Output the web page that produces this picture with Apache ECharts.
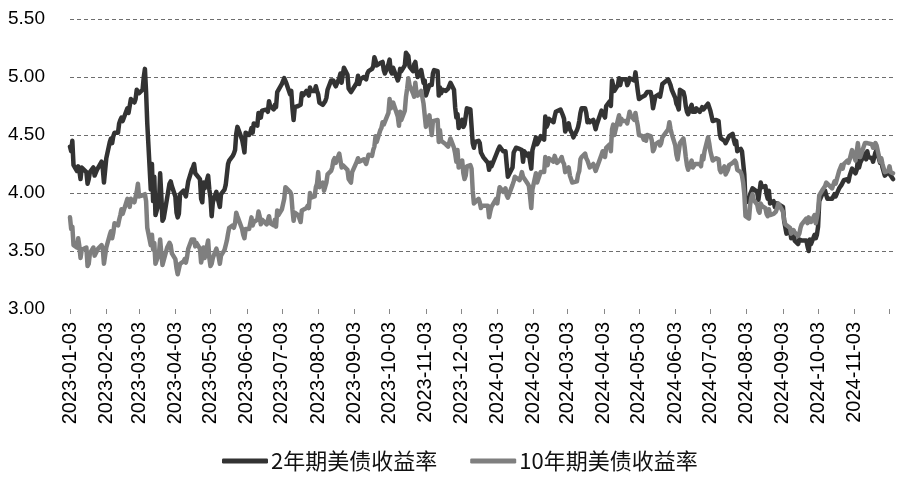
<!DOCTYPE html>
<html><head><meta charset="utf-8">
<script src="https://cdn.jsdelivr.net/npm/echarts@6/dist/echarts.min.js"></script>
<style>html,body{margin:0;padding:0;background:#fff}#c{width:900px;height:478px}</style>
</head><body><div id="c"></div>
<script>
const seriesNames = ['2年期美债收益率', '10年期美债收益率'];
const axisStart = '2023-01-03';
const axisEnd = '2024-12-06';
const xTickLabels = ['2023-01-03','2023-02-03','2023-03-03','2023-04-03','2023-05-03','2023-06-03','2023-07-03','2023-08-03','2023-09-03','2023-10-03','2023-11-03','2023-12-03','2024-01-03','2024-02-03','2024-03-03','2024-04-03','2024-05-03','2024-06-03','2024-07-03','2024-08-03','2024-09-03','2024-10-03','2024-11-03'];
const xTickMarks = xTickLabels.concat(['2024-12-03']);
const yMin = 3.0, yMax = 5.5, yStep = 0.5;

// ---- 2023 trading days (MM-DD) ----
const dates2023 = [
'01-03','01-04','01-05','01-06','01-09','01-10','01-11','01-12','01-13','01-17','01-18','01-19','01-20','01-23','01-24','01-25','01-26','01-27','01-30','01-31',
'02-01','02-02','02-03','02-06','02-07','02-08','02-09','02-10','02-13','02-14','02-15','02-16','02-17','02-21','02-22','02-23','02-24','02-27','02-28',
'03-01','03-02','03-03','03-06','03-07','03-08','03-09','03-10','03-13','03-14','03-15','03-16','03-17','03-20','03-21','03-22','03-23','03-24','03-27','03-28','03-29','03-30','03-31',
'04-03','04-04','04-05','04-06','04-07','04-10','04-11','04-12','04-13','04-14','04-17','04-18','04-19','04-20','04-21','04-24','04-25','04-26','04-27','04-28',
'05-01','05-02','05-03','05-04','05-05','05-08','05-09','05-10','05-11','05-12','05-15','05-16','05-17','05-18','05-19','05-22','05-23','05-24','05-25','05-26','05-30','05-31',
'06-01','06-02','06-05','06-06','06-07','06-08','06-09','06-12','06-13','06-14','06-15','06-16','06-20','06-21','06-22','06-23','06-26','06-27','06-28','06-29','06-30',
'07-03','07-05','07-06','07-07','07-10','07-11','07-12','07-13','07-14','07-17','07-18','07-19','07-20','07-21','07-24','07-25','07-26','07-27','07-28','07-31',
'08-01','08-02','08-03','08-04','08-07','08-08','08-09','08-10','08-11','08-14','08-15','08-16','08-17','08-18','08-21','08-22','08-23','08-24','08-25','08-28','08-29','08-30','08-31',
'09-01','09-05','09-06','09-07','09-08','09-11','09-12','09-13','09-14','09-15','09-18','09-19','09-20','09-21','09-22','09-25','09-26','09-27','09-28','09-29',
'10-02','10-03','10-04','10-05','10-06','10-10','10-11','10-12','10-13','10-16','10-17','10-18','10-19','10-20','10-23','10-24','10-25','10-26','10-27','10-30','10-31',
'11-01','11-02','11-03','11-06','11-07','11-08','11-09','11-10','11-13','11-14','11-15','11-16','11-17','11-20','11-21','11-22','11-24','11-27','11-28','11-29','11-30',
'12-01','12-04','12-05','12-06','12-07','12-08','12-11','12-12','12-13','12-14','12-15','12-18','12-19','12-20','12-21','12-22','12-26','12-27','12-28','12-29'
];
const yield2y2023 = [
4.40,4.36,4.45,4.24,4.19,4.23,4.19,4.12,4.22,4.18,4.08,4.12,4.18,4.22,4.15,4.14,4.20,4.21,4.27,4.21,
4.09,4.10,4.30,4.44,4.47,4.43,4.49,4.52,4.52,4.60,4.63,4.65,4.62,4.73,4.69,4.70,4.81,4.78,4.81,
4.89,4.89,4.86,4.89,5.00,5.07,4.87,4.60,4.03,4.25,3.93,4.14,3.81,3.92,4.17,3.98,3.76,3.78,3.96,4.02,4.08,4.10,4.06,
3.97,3.83,3.79,3.82,3.99,4.02,4.03,3.97,3.97,4.10,4.20,4.22,4.25,4.17,4.18,4.12,3.95,3.92,4.09,4.04,
4.15,4.03,3.96,3.80,3.92,4.01,4.02,3.92,3.88,3.99,4.03,4.07,4.16,4.25,4.28,4.32,4.34,4.37,4.51,4.57,4.46,4.41,
4.35,4.52,4.50,4.52,4.56,4.52,4.60,4.58,4.69,4.69,4.65,4.71,4.72,4.70,4.79,4.75,4.72,4.76,4.74,4.87,4.87,
4.94,4.99,4.99,4.94,4.85,4.88,4.73,4.63,4.74,4.75,4.74,4.76,4.86,4.84,4.88,4.89,4.84,4.91,4.88,4.88,
4.92,4.88,4.85,4.78,4.76,4.75,4.79,4.82,4.89,4.97,4.96,4.97,4.94,4.92,4.99,5.03,4.95,5.02,5.08,5.02,4.90,4.89,4.87,
4.88,4.95,5.01,4.94,4.98,5.00,5.01,4.98,5.03,5.05,5.07,5.09,5.17,5.14,5.10,5.12,5.13,5.13,5.06,5.03,
5.11,5.15,5.05,5.03,5.08,4.97,5.00,5.07,5.05,5.10,5.21,5.22,5.18,5.09,5.05,5.11,5.13,5.05,5.00,5.06,5.07,
4.95,4.97,4.84,4.93,4.93,4.93,5.03,5.06,5.05,4.84,4.91,4.86,4.89,4.88,4.88,4.90,4.95,4.89,4.74,4.65,4.68,
4.56,4.63,4.57,4.59,4.58,4.73,4.72,4.71,4.43,4.39,4.44,4.45,4.43,4.35,4.33,4.31,4.26,4.20,4.26,4.23
];
const yield10y2023 = [
3.79,3.69,3.71,3.55,3.53,3.61,3.54,3.44,3.51,3.53,3.37,3.39,3.48,3.53,3.46,3.46,3.50,3.52,3.55,3.52,
3.39,3.40,3.53,3.64,3.67,3.61,3.66,3.74,3.72,3.77,3.81,3.86,3.82,3.95,3.92,3.88,3.95,3.92,3.92,
4.01,4.08,3.97,3.98,3.97,3.99,3.93,3.70,3.55,3.64,3.51,3.57,3.39,3.48,3.60,3.48,3.38,3.38,3.53,3.55,3.57,3.55,3.48,
3.43,3.35,3.30,3.31,3.39,3.41,3.43,3.40,3.45,3.52,3.60,3.59,3.60,3.54,3.57,3.52,3.40,3.45,3.53,3.44,
3.59,3.44,3.37,3.39,3.44,3.52,3.52,3.45,3.39,3.46,3.51,3.55,3.59,3.65,3.70,3.72,3.70,3.74,3.83,3.80,3.69,3.64,
3.61,3.69,3.69,3.70,3.79,3.72,3.75,3.77,3.84,3.80,3.73,3.77,3.73,3.72,3.80,3.74,3.72,3.77,3.71,3.85,3.81,
3.86,3.95,4.05,4.06,4.01,3.99,3.86,3.76,3.83,3.81,3.80,3.75,3.85,3.84,3.87,3.89,3.87,4.00,3.96,3.97,
4.05,4.08,4.18,4.05,4.09,4.02,4.01,4.09,4.16,4.19,4.22,4.28,4.30,4.26,4.34,4.33,4.22,4.24,4.25,4.20,4.12,4.12,4.09,
4.18,4.27,4.30,4.27,4.26,4.29,4.28,4.25,4.29,4.33,4.32,4.37,4.40,4.49,4.44,4.54,4.56,4.61,4.59,4.59,
4.69,4.81,4.73,4.72,4.78,4.66,4.58,4.70,4.63,4.71,4.83,4.90,4.99,4.93,4.86,4.83,4.95,4.86,4.84,4.88,4.88,
4.77,4.67,4.57,4.67,4.58,4.50,4.62,4.61,4.63,4.44,4.54,4.45,4.44,4.42,4.41,4.40,4.47,4.39,4.34,4.27,4.37,
4.22,4.28,4.17,4.12,4.15,4.23,4.24,4.21,4.02,3.91,3.91,3.95,3.92,3.87,3.89,3.90,3.89,3.79,3.84,3.88
];

// ---- 2024 trading days (MM-DD) ----
const dates2024 = [
'01-02','01-03','01-04','01-05','01-08','01-09','01-10','01-11','01-12','01-16','01-17','01-18','01-19','01-22','01-23','01-24','01-25','01-26','01-29','01-30','01-31',
'02-01','02-02','02-05','02-06','02-07','02-08','02-09','02-12','02-13','02-14','02-15','02-16','02-20','02-21','02-22','02-23','02-26','02-27','02-28','02-29',
'03-01','03-04','03-05','03-06','03-07','03-08','03-11','03-12','03-13','03-14','03-15','03-18','03-19','03-20','03-21','03-22','03-25','03-26','03-27','03-28',
'04-01','04-02','04-03','04-04','04-05','04-08','04-09','04-10','04-11','04-12','04-15','04-16','04-17','04-18','04-19','04-22','04-23','04-24','04-25','04-26','04-29','04-30',
'05-01','05-02','05-03','05-06','05-07','05-08','05-09','05-10','05-13','05-14','05-15','05-16','05-17','05-20','05-21','05-22','05-23','05-24','05-28','05-29','05-30','05-31',
'06-03','06-04','06-05','06-06','06-07','06-10','06-11','06-12','06-13','06-14','06-17','06-18','06-20','06-21','06-24','06-25','06-26','06-27','06-28',
'07-01','07-02','07-03','07-05','07-08','07-09','07-10','07-11','07-12','07-15','07-16','07-17','07-18','07-19','07-22','07-23','07-24','07-25','07-26','07-29','07-30','07-31',
'08-01','08-02','08-05','08-06','08-07','08-08','08-09','08-12','08-13','08-14','08-15','08-16','08-19','08-20','08-21','08-22','08-23','08-26','08-27','08-28','08-29','08-30',
'09-03','09-04','09-05','09-06','09-09','09-10','09-11','09-12','09-13','09-16','09-17','09-18','09-19','09-20','09-23','09-24','09-25','09-26','09-27','09-30',
'10-01','10-02','10-03','10-04','10-07','10-08','10-09','10-10','10-11','10-15','10-16','10-17','10-18','10-21','10-22','10-23','10-24','10-25','10-28','10-29','10-30','10-31',
'11-01','11-04','11-05','11-06','11-07','11-08','11-12','11-13','11-14','11-15','11-18','11-19','11-20','11-21','11-22','11-25','11-26','11-27','11-29',
'12-02','12-03','12-04','12-05','12-06'
];
const yield2y2024 = [
4.33,4.33,4.38,4.40,4.36,4.36,4.36,4.25,4.14,4.22,4.35,4.35,4.39,4.38,4.39,4.37,4.27,4.36,4.32,4.34,4.27,
4.21,4.37,4.48,4.42,4.43,4.46,4.49,4.46,4.66,4.57,4.59,4.64,4.61,4.66,4.70,4.69,4.72,4.72,4.67,4.64,
4.53,4.60,4.55,4.56,4.51,4.48,4.54,4.57,4.62,4.69,4.73,4.73,4.69,4.61,4.63,4.61,4.63,4.59,4.55,4.59,
4.71,4.69,4.67,4.65,4.75,4.79,4.75,4.97,4.96,4.88,4.93,4.99,4.93,4.98,4.97,4.98,4.93,4.95,4.99,5.00,4.97,5.04,
4.96,4.88,4.81,4.83,4.83,4.84,4.83,4.87,4.87,4.82,4.73,4.78,4.83,4.85,4.83,4.88,4.94,4.95,4.98,4.98,4.93,4.89,
4.82,4.77,4.75,4.72,4.89,4.87,4.83,4.75,4.70,4.68,4.76,4.70,4.70,4.73,4.70,4.71,4.74,4.72,4.71,
4.77,4.74,4.71,4.62,4.63,4.63,4.62,4.51,4.47,4.45,4.43,4.42,4.47,4.49,4.51,4.46,4.42,4.45,4.36,4.38,4.36,4.26,
4.16,3.92,3.93,3.99,4.00,4.04,4.05,4.01,3.94,3.94,4.09,4.05,4.06,3.99,3.95,4.02,3.91,3.93,3.88,3.88,3.91,3.92,
3.88,3.76,3.75,3.65,3.68,3.61,3.65,3.67,3.59,3.56,3.60,3.61,3.59,3.59,3.59,3.54,3.50,3.60,3.56,3.64,
3.61,3.64,3.71,3.93,4.00,3.99,4.02,3.98,3.95,3.95,3.96,3.99,3.97,4.04,4.05,4.07,4.07,4.11,4.12,4.10,4.15,4.16,
4.21,4.17,4.20,4.28,4.22,4.26,4.34,4.29,4.36,4.31,4.30,4.27,4.31,4.35,4.37,4.26,4.28,4.22,4.15,
4.18,4.17,4.15,4.15,4.12
];
const yield10y2024 = [
3.95,3.91,3.99,4.05,4.01,4.02,4.04,3.98,3.96,4.07,4.10,4.14,4.15,4.11,4.14,4.18,4.14,4.15,4.08,4.06,3.97,
3.87,4.03,4.17,4.09,4.12,4.15,4.18,4.18,4.31,4.27,4.24,4.30,4.27,4.32,4.33,4.26,4.29,4.31,4.27,4.25,
4.18,4.22,4.15,4.12,4.09,4.08,4.10,4.16,4.19,4.29,4.31,4.34,4.30,4.28,4.27,4.22,4.25,4.24,4.19,4.20,
4.33,4.36,4.36,4.31,4.39,4.42,4.36,4.55,4.59,4.50,4.63,4.67,4.59,4.64,4.62,4.62,4.60,4.65,4.70,4.67,4.63,4.69,
4.63,4.58,4.50,4.49,4.46,4.49,4.45,4.50,4.49,4.45,4.36,4.38,4.42,4.44,4.41,4.43,4.48,4.47,4.55,4.61,4.55,4.51,
4.41,4.33,4.29,4.28,4.43,4.47,4.40,4.31,4.24,4.20,4.28,4.22,4.25,4.26,4.25,4.23,4.32,4.29,4.36,
4.48,4.43,4.36,4.28,4.30,4.30,4.29,4.20,4.18,4.23,4.16,4.16,4.20,4.24,4.26,4.25,4.28,4.26,4.20,4.18,4.15,4.09,
3.99,3.80,3.78,3.90,3.96,3.99,3.94,3.90,3.85,3.83,3.91,3.89,3.87,3.82,3.80,3.86,3.81,3.82,3.83,3.84,3.87,3.91,
3.84,3.77,3.73,3.72,3.70,3.65,3.65,3.68,3.66,3.63,3.65,3.70,3.73,3.74,3.78,3.74,3.79,3.80,3.75,3.81,
3.74,3.79,3.85,3.98,4.03,4.04,4.06,4.09,4.10,4.04,4.03,4.10,4.08,4.19,4.20,4.24,4.21,4.25,4.28,4.26,4.29,4.28,
4.37,4.28,4.29,4.43,4.33,4.31,4.43,4.44,4.43,4.43,4.42,4.39,4.41,4.43,4.41,4.27,4.30,4.25,4.18,
4.19,4.23,4.18,4.17,4.17
];

// ---- build the calendar-day category axis (date axis like the original) ----
const map2 = {}, map10 = {};
function addYear(year, dates, a2, a10) {
  if (dates.length !== a2.length || dates.length !== a10.length) console.warn('length mismatch', year, dates.length, a2.length, a10.length);
  dates.forEach((d, i) => { map2[year + '-' + d] = a2[i]; map10[year + '-' + d] = a10[i]; });
}
addYear(2023, dates2023, yield2y2023, yield10y2023);
addYear(2024, dates2024, yield2y2024, yield10y2024);

const categories = [];
for (let t = Date.parse(axisStart + 'T00:00:00Z'); t <= Date.parse(axisEnd + 'T00:00:00Z'); t += 86400000) {
  categories.push(new Date(t).toISOString().slice(0, 10));
}
const data2 = categories.map(c => (c in map2 ? map2[c] : null));
const data10 = categories.map(c => (c in map10 ? map10[c] : null));
const labelSet = new Set(xTickLabels);
const tickSet = new Set(xTickMarks);

const chart = echarts.init(document.getElementById('c'), null, { renderer: 'canvas' });
chart.setOption({
  animation: false,
  backgroundColor: '#ffffff',
  grid: { left: 70, right: 7, top: 19, bottom: 169, containLabel: false },
  legend: {
    data: seriesNames,
    left: 217, top: 445,
    icon: 'roundRect',
    itemWidth: 46, itemHeight: 5, itemGap: 33,
    textStyle: { fontSize: 22, color: '#111', fontFamily: "'Noto Sans CJK SC', sans-serif", padding: [0, 0, 0, -2] }
  },
  xAxis: {
    type: 'category',
    data: categories,
    boundaryGap: false,
    axisLine: { show: false },
    axisTick: { show: true, interval: (i, v) => tickSet.has(v), length: 5, lineStyle: { color: '#888', width: 1 } },
    axisLabel: {
      interval: (i, v) => labelSet.has(v), rotate: 90, margin: 13,
      fontSize: 20, color: '#000', fontFamily: "'Liberation Sans', Arial, sans-serif"
    },
    splitLine: { show: false }
  },
  yAxis: {
    type: 'value', min: yMin, max: yMax, interval: yStep,
    axisLine: { show: false }, axisTick: { show: false },
    axisLabel: { formatter: v => v.toFixed(2), fontSize: 19, color: '#000', margin: 25, fontFamily: "'Liberation Sans', Arial, sans-serif" },
    splitLine: { show: true, showMinLine: false, lineStyle: { color: '#6e6e6e', width: 1, type: [4, 3] } }
  },
  series: [
    { name: seriesNames[0], type: 'line', data: data2, connectNulls: true, showSymbol: false, symbol: 'none',
      itemStyle: { color: '#333333' }, lineStyle: { color: '#333333', width: 4.5, cap: 'round', join: 'round' }, emphasis: { disabled: true } },
    { name: seriesNames[1], type: 'line', data: data10, connectNulls: true, showSymbol: false, symbol: 'none',
      itemStyle: { color: '#7f7f7f' }, lineStyle: { color: '#7f7f7f', width: 4.5, cap: 'round', join: 'round' }, emphasis: { disabled: true } }
  ]
});
</script>
</body></html>
